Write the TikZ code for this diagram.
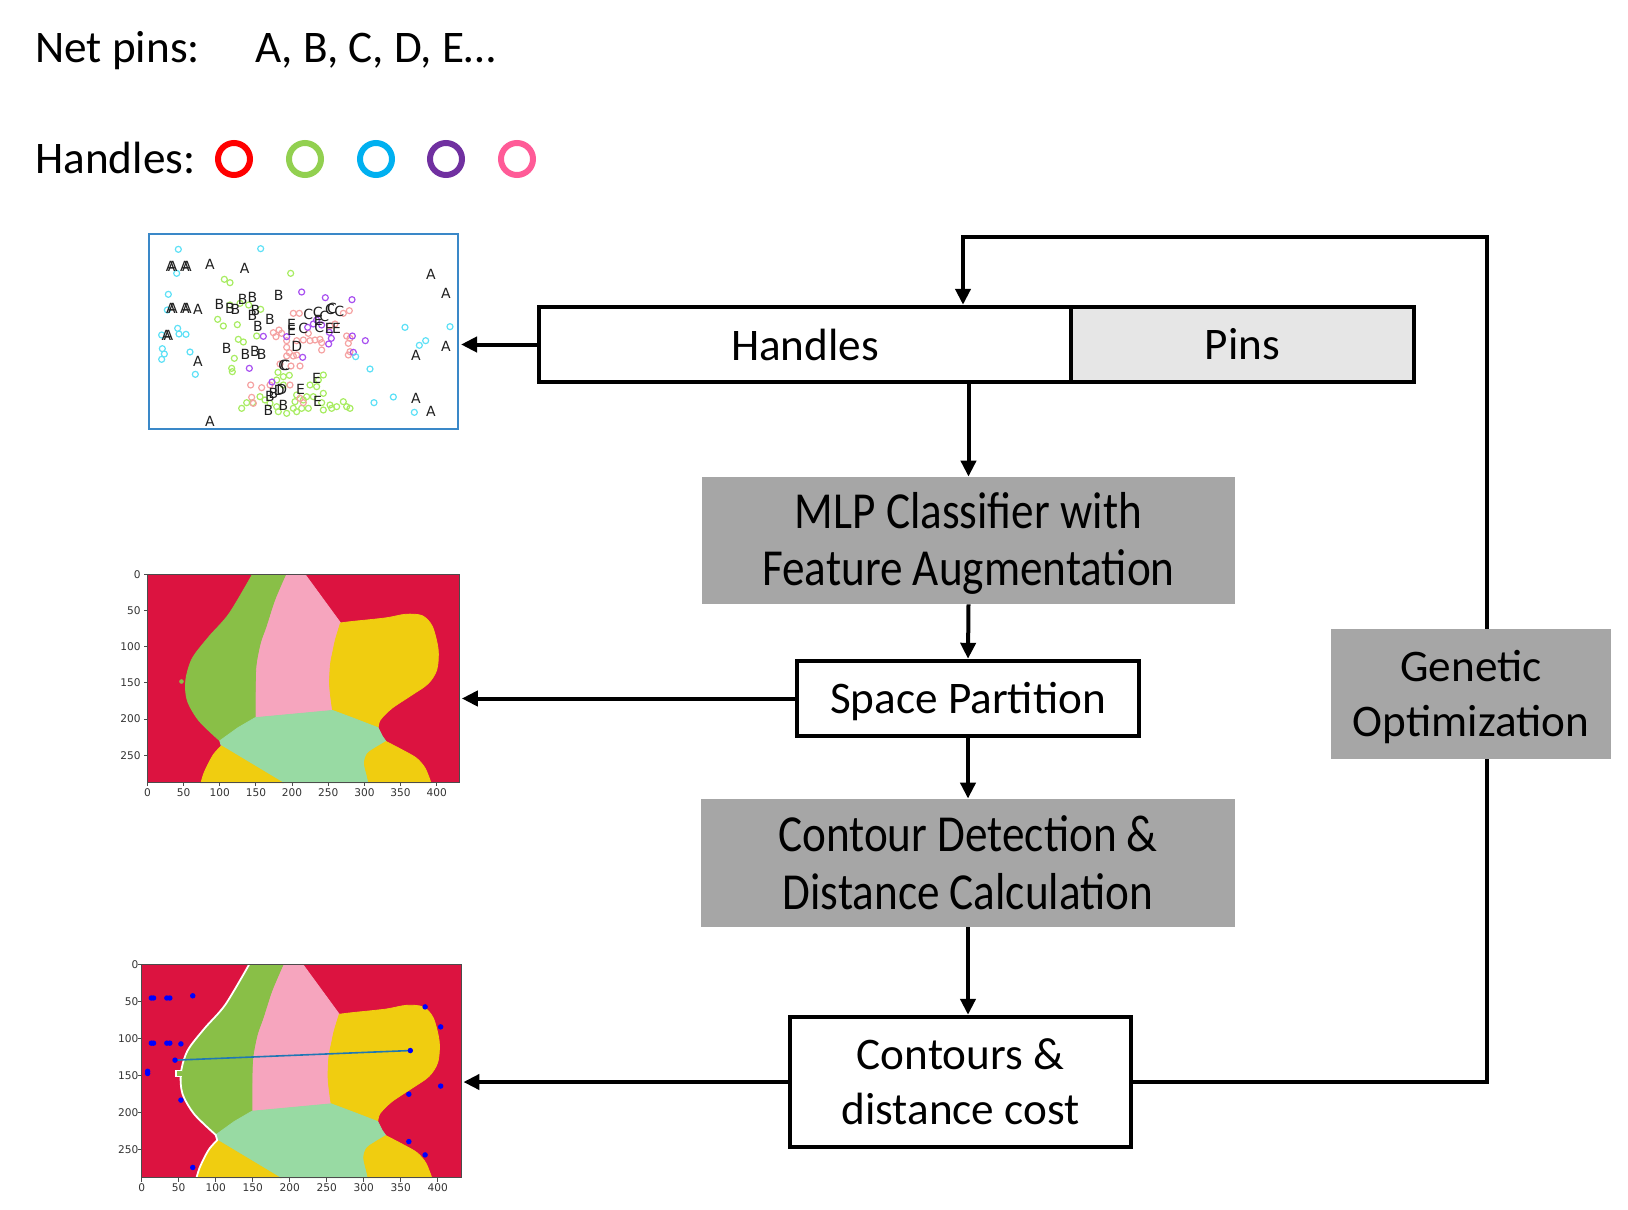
\documentclass[tikz,border=0pt]{standalone}
\usepackage{fontspec}
\usepackage{graphicx}
\setmainfont{Carlito}
\newfontfamily\plotfont{DejaVu Sans}
\usetikzlibrary{arrows.meta}
\definecolor{cRed}{HTML}{FF0000}
\definecolor{cGreen}{HTML}{92D050}
\definecolor{cCyan}{HTML}{00B0F0}
\definecolor{cPurple}{HTML}{7030A0}
\definecolor{cPink}{HTML}{FF5B97}
\definecolor{boxgray}{HTML}{A6A6A6}
\definecolor{pinsgray}{HTML}{E6E6E6}
\definecolor{rRed}{HTML}{DC1340}
\definecolor{rGreen}{HTML}{89BF47}
\definecolor{rPink}{HTML}{F6A5BE}
\definecolor{rYellow}{HTML}{F0CD10}
\definecolor{rLight}{HTML}{98DAA3}
\definecolor{scCyan}{HTML}{5EE0F6}
\definecolor{scGreen}{HTML}{A8EC62}
\definecolor{scSalmon}{HTML}{F5A3A3}
\definecolor{scPurple}{HTML}{A850F0}
\definecolor{frameBlue}{HTML}{3A88C8}
\definecolor{lineBlue}{HTML}{1F77B4}

\newcommand{\PartRegions}{%
  \fill[rRed] (0,0) rectangle (432,288);
  % pink
  \filldraw[rPink, line width=0.4pt] (191,0) -- (218,0) -- (267,67) -- plot[smooth] coordinates {(267,67) (260,90) (257,104) (253,125) (252,155) (256,188)} -- (149,198) -- plot[smooth] coordinates {(149,198) (149,165) (150,127) (156,95) (164,72) (176,35) (191,0)} -- cycle;
  % green
  \filldraw[rGreen, line width=0.4pt] plot[smooth] coordinates {(145,0) (113,54) (85,86) (62,116) (53,146) (55,174) (71,202) (100,230)} -- (125,212) -- (149,198) -- plot[smooth] coordinates {(149,198) (149,165) (150,127) (156,95) (164,72) (176,35) (191,0)} -- cycle;
  % yellow upper right
  \filldraw[rYellow, line width=0.4pt] plot[smooth] coordinates {(267,67) (283,65) (330,60) (357,55) (380,57) (394,72) (402,104) (400,132) (388,151) (365,167) (338,185) (322,201) (319,212)} -- (288,200) -- (256,188) -- plot[smooth] coordinates {(256,188) (252,155) (253,125) (257,104) (260,90) (267,67)} -- cycle;
  % light green
  \filldraw[rLight, line width=0.4pt] (100,230) -- (125,212) -- (149,198) -- (256,188) -- (288,200) -- (319,212) -- (325,224) -- plot[smooth] coordinates {(330,231) (315,240) (304,248) (300,261) (304,279) (306,288)} -- (187,288) -- (102,237) -- cycle;
  % yellow lower left
  \filldraw[rYellow, line width=0.4pt] (102,237) -- (187,288) -- (74,288) -- plot[smooth] coordinates {(74,288) (78,275) (85,260) (92,248) (102,237)} -- cycle;
  % yellow lower right
  \filldraw[rYellow, line width=0.4pt] plot[smooth] coordinates {(330,231) (353,243) (372,254) (384,268) (392,288)} -- (306,288) -- plot[smooth] coordinates {(306,288) (304,279) (300,261) (304,248) (315,240) (330,231)} -- cycle;
}
\newcommand{\PlotAxes}[2]{%
  \draw[black!70, line width=0.5pt] (0,0) rectangle (432,288);
  \foreach \v in {0,50,...,400} {%
    \draw[black!70, line width=0.5pt] (\v,288) -- (\v,293);
    \node[ticklbl, anchor=north] at (\v,{288+#1}) {\v};}
  \foreach \v in {0,50,...,250} {%
    \draw[black!70, line width=0.5pt] (0,\v) -- (-5,\v);
    \node[ticklbl, anchor=east] at ({-#2},\v) {\v};}
}
\newcommand{\LowerBy}[2]{\raisebox{-#1}[\height][\depth]{#2}}

\begin{document}
\begin{tikzpicture}[x=0.5pt, y=-0.5pt,
  txt/.style={font=\fontsize{22.6}{27.5}\selectfont, inner sep=0pt},
  box/.style={draw, line width=2.2pt, inner sep=0pt, align=center, font=\fontsize{22.6}{27.5}\selectfont},
  gbox/.style={fill=boxgray, inner sep=0pt, align=center, font=\fontsize{22.6}{27.5}\selectfont},
  conn/.style={line width=2pt},
  arr/.style={conn, -{Triangle[length=8pt,width=7.5pt]}},
  hring/.style={circle, draw=#1, line width=3pt, minimum size=16pt, inner sep=0pt},
  ticklbl/.style={font=\plotfont\fontsize{5.3}{6}\selectfont, text=black!80, inner sep=0pt},
  sclbl/.style={font=\plotfont\fontsize{7}{7}\selectfont, text=black!88, inner sep=0pt},
  plotframe/.style={inner sep=0pt, outer sep=0pt}
]
\useasboundingbox (0,0) rectangle (1628,1210);

% ---------- header ----------
\node[txt, anchor=base west] (np) at (35,62) {Net pins:};
\node[txt, anchor=base west] (npl) at (255,62) {A, B, C, D, E…};
\node[txt, anchor=base west] (hl) at (35,173) {Handles:};
\node[hring=cRed] (h1) at (234,159) {};
\node[hring=cGreen] (h2) at (305,159) {};
\node[hring=cCyan] (h3) at (376,159) {};
\node[hring=cPurple] (h4) at (446,159) {};
\node[hring=cPink] (h5) at (517,159) {};

% ---------- scatter plot ----------
\node[plotframe, draw=frameBlue, line width=0.9pt, minimum width=154.5pt, minimum height=97.5pt] (scat) at (303.5,331.5) {};
\begin{scope}[shift={(130,220)}, scale=0.33333]
  \foreach \x/\y in {482/160,283/178,300/188,300/255,330/250,356/255,392/268,263/298,280/318,322/314,325/358,340/366,380/348,313/415,305/445,307/455,444/457,460/470,478/466,580/465,565/480,540/495,560/500,580/520,575/548,600/555,620/560,640/545,650/560,660/565,335/565,350/548,368/548,390/530,405/540,420/550,440/560,445/575,470/580,490/565,500/575,515/565,535/565,520/540,500/525,495/545,530/530,550/530,580/570,605/565,440/480,460/495}
    \draw[scGreen, line width=0.6pt] (\x,\y) circle[radius=9];
  \foreach \x/\y in {490/280,508/280,658/272,640/280,430/338,447/330,438/350,455/340,470/362,500/362,520/360,540/362,570/358,575/368,650/348,660/355,655/370,470/382,478/398,470/408,490/408,500/405,575/390,655/405,660/395,510/438,483/438,450/432,362/495,395/503,365/532,370/550,420/495,480/495,520/548,510/535,555/360,600/318,615/312,535/340}
    \draw[scSalmon, line width=0.6pt] (\x,\y) circle[radius=9];
  \foreach \x/\y in {515/216,586/233,666/239,400/349,470/350,533/322,598/337,604/355,596/372,667/348,706/362,670/397,518/412,358/445,426/486,560/300,575/315,550/312}
    \draw[scPurple, line width=0.6pt] (\x,\y) circle[radius=9];
  \foreach \x/\y in {145/88,392/86,140/160,115/223,112/270,143/325,147/342,168/343,95/345,97/386,103/402,95/418,180/396,196/463,825/322,960/320,887/362,868/376,677/410,720/447,790/531,732/548,853/577}
    \draw[scCyan, line width=0.6pt] (\x,\y) circle[radius=9];
  \foreach \x/\y/\t in {122/138/A,128/138/A,165/138/A,171/138/A,240/133/A,344/146/A,123/264/A,129/264/A,165/264/A,171/264/A,204/268/A,109/347/A,115/347/A,204/424/A,240/605/A,903/163/A,948/221/A,948/380/A,858/407/A,858/536/A,903/574/A,
      268/252/B,300/265/B,316/268/B,338/238/B,367/232/B,376/270/B,367/285/B,420/298/B,384/320/B,446/226/B,290/385/B,346/404/B,375/394/B,395/404/B,430/520/B,420/530/B,460/555/B,415/570/B,
      535/283/C,563/278/C,583/288/C,600/268/C,606/265/C,628/275/C,520/325/C,568/322/C,460/437/C,466/437/C,
      500/380/D,455/508/D,448/510/D,
      485/312/E,485/332/E,560/475/E,512/508/E,563/545/E,620/325/E,598/325/E,565/300/E}
    \node[sclbl] at (\x,\y) {\t};
\end{scope}

% ---------- partition plot ----------
\node[plotframe, minimum width=156.2pt, minimum height=104.1pt] (img2) at (303.6,678.6) {};
\begin{scope}[shift={(147.5,574.5)}, scale=0.723]
  \PartRegions
  \fill[rGreen] (47,148) circle[radius=3.2];
  \PlotAxes{8}{9}
\end{scope}

% ---------- contour plot ----------
\node[plotframe, minimum width=159.85pt, minimum height=106.56pt] (img3) at (301.55,1071.25) {};
\begin{scope}[shift={(141.7,964.7)}, scale=0.74]
  \PartRegions
  \draw[white, line width=0.9pt] plot[smooth] coordinates {(145,0) (113,54) (85,86) (62,116) (53,146) (55,174) (71,202) (100,230)} -- (102,237) -- plot[smooth] coordinates {(102,237) (92,248) (85,260) (78,275) (74,288)};
  \filldraw[fill=rGreen, draw=white, line width=0.9pt] (54,143) -- (46,143) -- (46,151) -- (54,151);
  \draw[lineBlue, line width=0.8pt] (45,129) -- (363,116);
  \foreach \x/\y in {13/45,16/45,34/45,38/45,69/42,13/106,16/106,34/106,38/106,53/107,45/129,8/144,8/147,53/183,69/274,363/116,383/57,404/84,361/175,404/164,361/239,383/257}
    \fill[blue] (\x,\y) circle[radius=3.7];
  \PlotAxes{7}{4}
\end{scope}

% ---------- feedback loop corners ----------
\coordinate (fbR) at (1487,237);
\coordinate (fbL) at (963,237);

% ---------- flow boxes ----------
\node[box, minimum width=266pt, minimum height=37.5pt] (handles) at (805,344.5) {Handles};
\node[box, fill=pinsgray, minimum width=171.5pt, minimum height=37.5pt] (pins) at (1242.5,344.5) {Pins};
\node[gbox, minimum width=266.5pt, minimum height=63.5pt] (mlp) at (968.5,540.5)
  {\LowerBy{2.6pt}{\scalebox{1}[1.15]{\fontsize{22.6}{25}\selectfont\begin{tabular}{@{}c@{}}MLP Classifier with\\Feature Augmentation\end{tabular}}}};
\node[box, minimum width=171pt, minimum height=37.5pt] (sp) at (968,698.5) {\LowerBy{1.6pt}{Space Partition}};
\node[gbox, minimum width=267pt, minimum height=64pt] (cd) at (968,863)
  {\LowerBy{3.1pt}{\scalebox{1}[1.15]{\fontsize{22.6}{25}\selectfont\begin{tabular}{@{}c@{}}Contour Detection \&\\Distance Calculation\end{tabular}}}};
\node[box, minimum width=170.5pt, minimum height=65pt] (cc) at (960.5,1082) {\LowerBy{2pt}{\begin{tabular}{@{}c@{}}Contours \&\\distance cost\end{tabular}}};

\draw[arr] (cc.east) -| (fbR) -- (fbL) -- (fbL |- handles.north);
\node[gbox, minimum width=140pt, minimum height=65pt] (gen) at (1471,694) {\LowerBy{2.1pt}{\begin{tabular}{@{}c@{}}Genetic\\Optimization\end{tabular}}};

% ---------- connectors ----------
\draw[arr, shorten >=1.5pt] (handles.west) -- (handles.west -| scat.east);
\draw[arr] (handles.south -| mlp.north) -- (mlp.north);
\draw[arr] (mlp.south) -- (sp.north);
\draw[arr, shorten >=1pt] (sp.west) -- (sp.west -| img2.east);
\draw[arr] (sp.south) -- (cd.north);
\draw[arr] (cd.south) -- (cd.south |- cc.north);
\draw[arr, shorten >=1pt] (cc.west) -- (cc.west -| img3.east);
\end{tikzpicture}
\end{document}
